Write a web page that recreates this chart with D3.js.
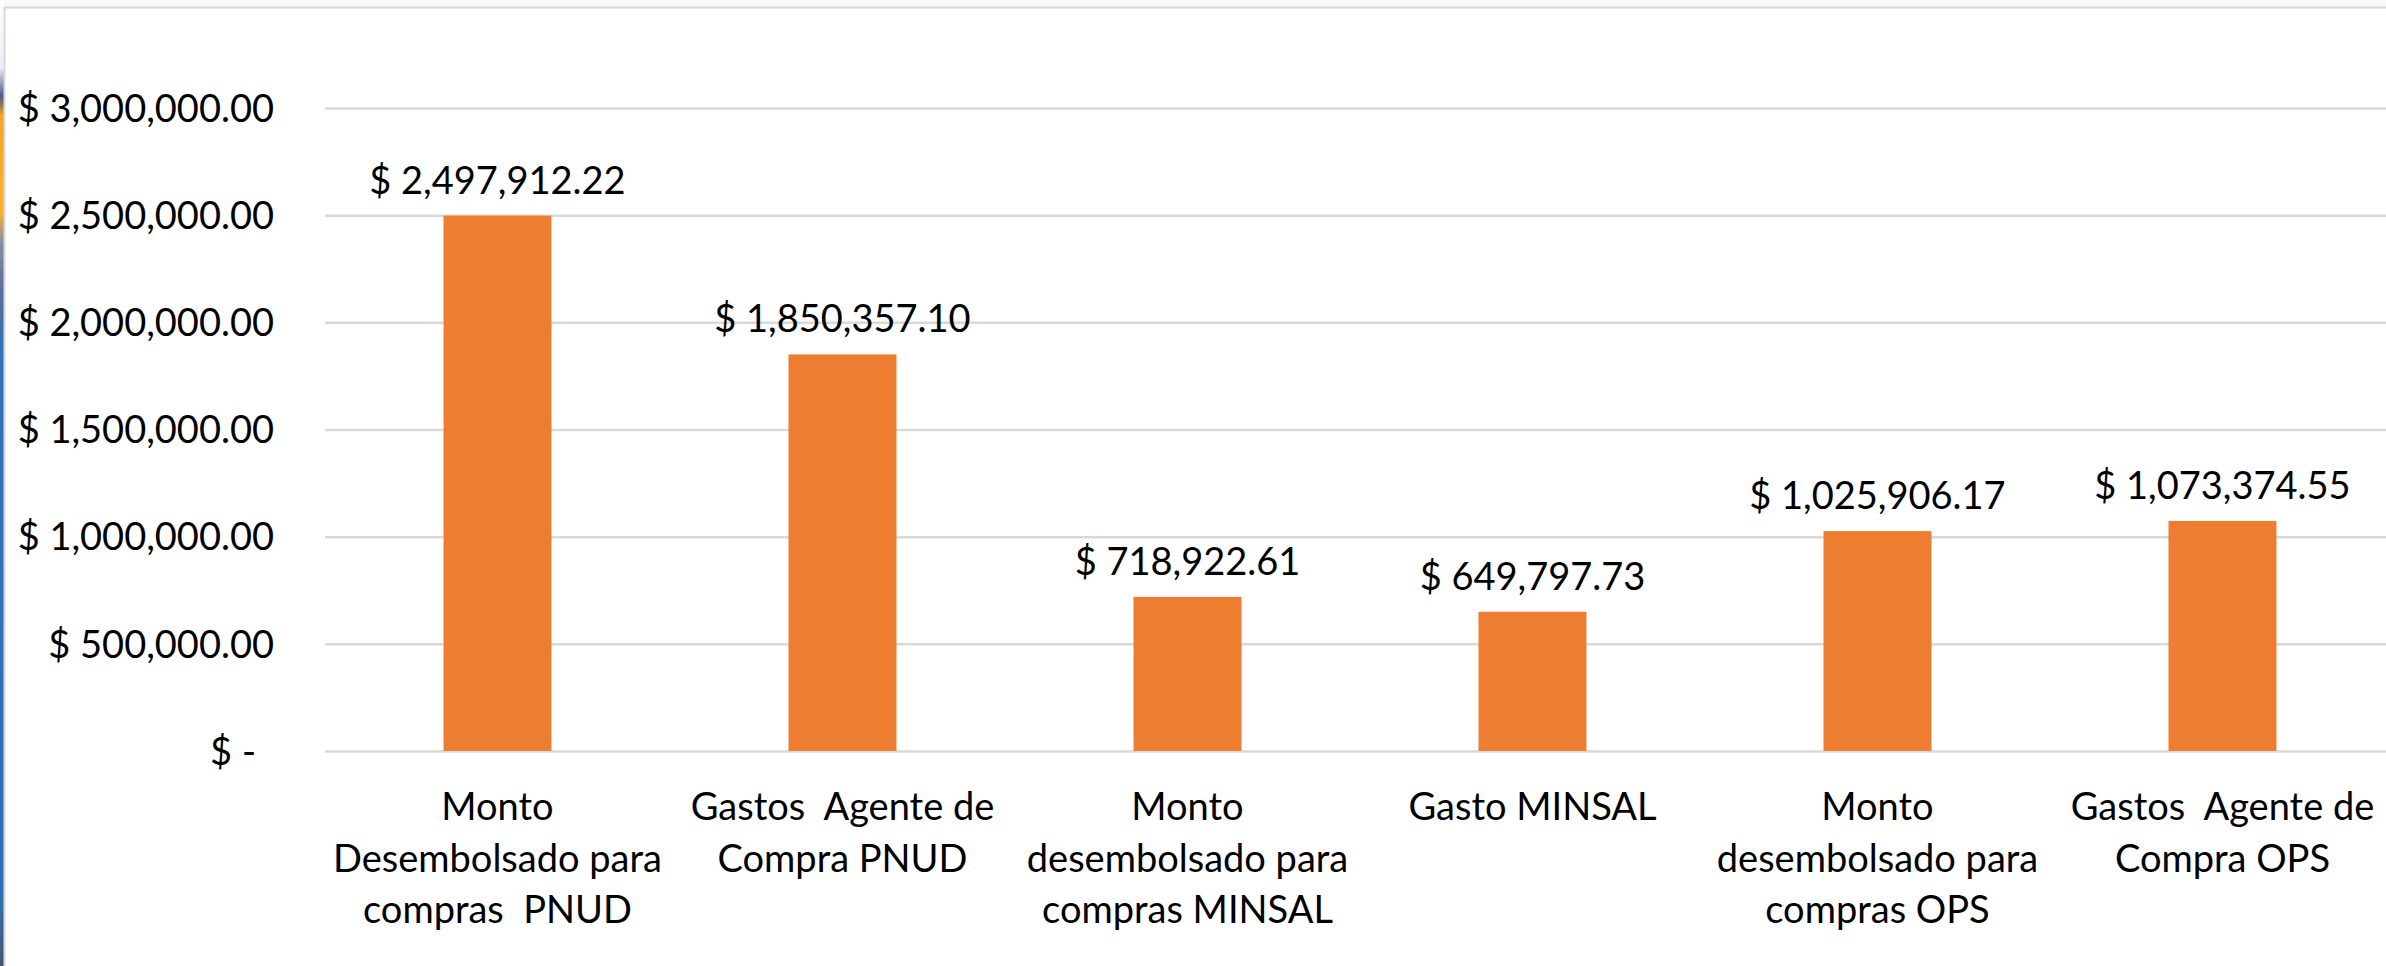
<!DOCTYPE html>
<html>
<head>
<meta charset="utf-8">
<script src="https://cdn.jsdelivr.net/npm/d3@7"></script>
<style>
  html, body { margin: 0; padding: 0; background: #ffffff; }
  svg { display: block; }
  text { font-family: Lato, "Open Sans", sans-serif; fill: #000; }
</style>
</head>
<body>
<script>
// ---- data ----
const categories = [
  ["Monto", "Desembolsado para", "compras  PNUD"],
  ["Gastos  Agente de", "Compra PNUD"],
  ["Monto", "desembolsado para", "compras MINSAL"],
  ["Gasto MINSAL"],
  ["Monto", "desembolsado para", "compras OPS"],
  ["Gastos  Agente de", "Compra OPS"]
];
const values = [2497912.22, 1850357.10, 718922.61, 649797.73, 1025906.17, 1073374.55];
const yTicks = [0, 500000, 1000000, 1500000, 2000000, 2500000, 3000000];

// ---- layout ----
const W = 2386, H = 966;
const plotLeft = 325, plotRight = 2395, plotTop = 108, plotBottom = 751;
const fontSize = 38;

const svg = d3.select("body").append("svg").attr("width", W).attr("height", H);

// slide background remnants: left strip and top strip
const defs = svg.append("defs");
const grad = defs.append("linearGradient").attr("id", "strip").attr("x1", 0).attr("y1", 0).attr("x2", 0).attr("y2", 1);
[[0, "#ffffff"], [0.07, "#e9edf5"], [0.10, "#4a5a8a"], [0.12, "#f2a623"], [0.22, "#f5b330"], [0.25, "#8a8fa6"], [0.30, "#5a6d9c"], [0.36, "#2f74b8"], [0.93, "#2e72b4"], [1, "#4a5570"]]
  .forEach(([o, c]) => grad.append("stop").attr("offset", o).attr("stop-color", c));
svg.append("rect").attr("x", 0).attr("y", 0).attr("width", 4).attr("height", H).attr("fill", "url(#strip)");
svg.append("rect").attr("x", 4).attr("y", 0).attr("width", W - 4).attr("height", 7).attr("fill", "#f7f9fc");
svg.append("path").attr("d", `M4.5,${H} V7.5 H${W}`).attr("fill", "none").attr("stroke", "#d9d9d9").attr("stroke-width", 2);

// ---- scales ----
const x = d3.scaleBand()
  .domain(d3.range(categories.length))
  .range([plotLeft, plotRight])
  .paddingInner(0.687)
  .paddingOuter(0.3435);
const y = d3.scaleLinear().domain([0, 3000000]).range([plotBottom, plotTop]);

const fmtNum = d3.format(",.2f");
const fmtMoney = v => v === 0 ? "$ -" : "$ " + fmtNum(v);

// ---- y axis with gridlines ----
const yAxis = d3.axisLeft(y)
  .tickValues(yTicks)
  .tickSize(-(plotRight - plotLeft))
  .tickPadding(51)
  .tickFormat(fmtMoney);

const gy = svg.append("g").attr("transform", `translate(${plotLeft},0)`).call(yAxis);
gy.select(".domain").remove();
gy.selectAll(".tick line").attr("stroke", "#d9d9d9").attr("stroke-width", 2.5);
gy.selectAll(".tick text")
  .attr("font-size", fontSize)
  .attr("font-family", "Lato, sans-serif")
  .attr("fill", "#000")
  .attr("dy", "0.35em")
  .attr("dx", d => d === 0 ? -18 : 0);

// ---- bars ----
svg.append("g").selectAll("rect")
  .data(values)
  .join("rect")
  .attr("x", (d, i) => x(i))
  .attr("width", x.bandwidth())
  .attr("y", d => y(d))
  .attr("height", d => y(0) - y(d))
  .attr("fill", "#ED7D31");

// ---- value labels ----
svg.append("g").selectAll("text")
  .data(values)
  .join("text")
  .attr("x", (d, i) => x(i) + x.bandwidth() / 2)
  .attr("y", d => y(d) - 22)
  .attr("text-anchor", "middle")
  .attr("font-size", fontSize)
  .text(d => fmtMoney(d));

// ---- category labels ----
const lineH = 51.7;
const cat = svg.append("g").selectAll("text")
  .data(categories)
  .join("text")
  .attr("x", (d, i) => x(i) + x.bandwidth() / 2)
  .attr("y", y(0) + 69)
  .attr("text-anchor", "middle")
  .attr("font-size", fontSize)
  .style("white-space", "pre");
cat.each(function(lines, i) {
  const t = d3.select(this);
  lines.forEach((ln, k) => {
    t.append("tspan")
      .attr("x", x(i) + x.bandwidth() / 2)
      .attr("dy", k === 0 ? 0 : lineH)
      .text(ln);
  });
});
</script>
</body>
</html>
